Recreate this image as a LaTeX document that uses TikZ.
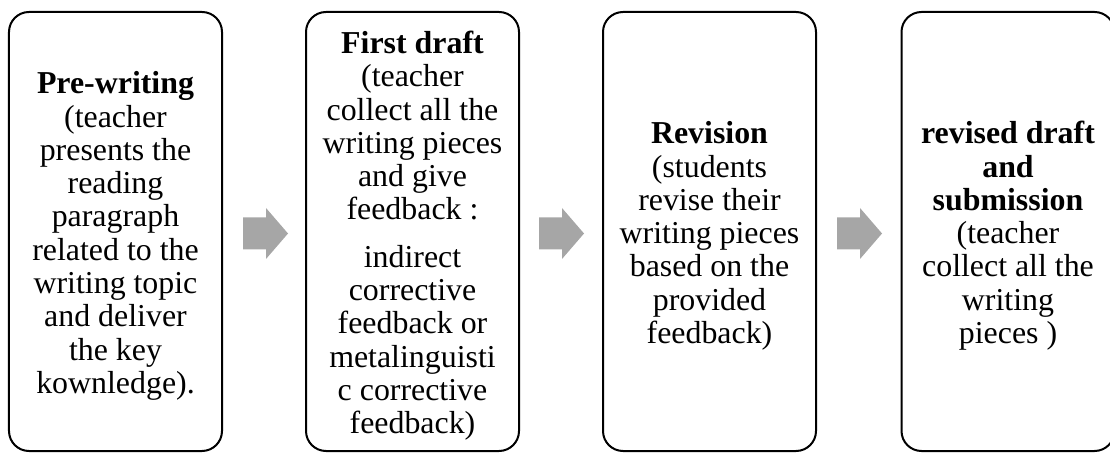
\documentclass[tikz,border=0pt]{standalone}
\usepackage{fontspec}
\setmainfont{Liberation Serif}
\usetikzlibrary{positioning}
\definecolor{arrowgray}{HTML}{A6A6A6}
\newcommand{\stage}[1]{\textbf{#1}}
\newcommand{\topgap}{\rule{0pt}{31bp}}

\begin{document}
\begin{tikzpicture}[x=1bp,y=-1bp,node distance=84bp,
   stagebox/.style={draw,line width=2bp,rounded corners=20bp,
      minimum width=213bp,minimum height=439bp,inner sep=0pt,outer sep=0pt,
      align=center,font=\fontsize{32}{33.4}\selectfont},
   blockarrow/.style={fill=arrowgray,draw=none}]
   \clip (0,0) rectangle (1110,453);
   \node[stagebox] (pre) at (115.5,231.5)
      {\topgap\stage{Pre-writing}\\(teacher\\presents the\\reading\\paragraph\\related to the\\writing topic\\and deliver\\the key\\kownledge).};
   \node[stagebox,right=of pre] (first)
      {\topgap\stage{First draft}\\(teacher\\collect all the\\writing pieces\\and give\\feedback :\\[14bp]indirect\\corrective\\feedback or\\metalinguisti\\c corrective\\feedback)};
   \node[stagebox,right=of first] (revision)
      {\topgap\stage{Revision}\\(students\\revise their\\writing pieces\\based on the\\provided\\feedback)};
   \node[stagebox,right=85.5bp of revision] (revised)
      {\topgap\stage{revised draft}\\\stage{and}\\\stage{submission}\\(teacher\\collect all the\\writing\\pieces )};
   \coordinate (a1) at ([xshift=43.5bp,yshift=-2bp]pre.east);
   \coordinate (a2) at ([xshift=42.5bp,yshift=-2bp]first.east);
   \coordinate (a3) at ([xshift=43.5bp,yshift=-2bp]revision.east);
   \fill[blockarrow] (a1) ++(-22.5,-16) -- ++(23,0) -- ++(0,-9.5) -- ++(22,25.5) -- ++(-22,25.5) -- ++(0,-9.5) -- ++(-23,0) -- cycle;
   \fill[blockarrow] (a2) ++(-22.5,-16) -- ++(23,0) -- ++(0,-9.5) -- ++(22,25.5) -- ++(-22,25.5) -- ++(0,-9.5) -- ++(-23,0) -- cycle;
   \fill[blockarrow] (a3) ++(-22.5,-16) -- ++(23,0) -- ++(0,-9.5) -- ++(22,25.5) -- ++(-22,25.5) -- ++(0,-9.5) -- ++(-23,0) -- cycle;
\end{tikzpicture}
\end{document}
